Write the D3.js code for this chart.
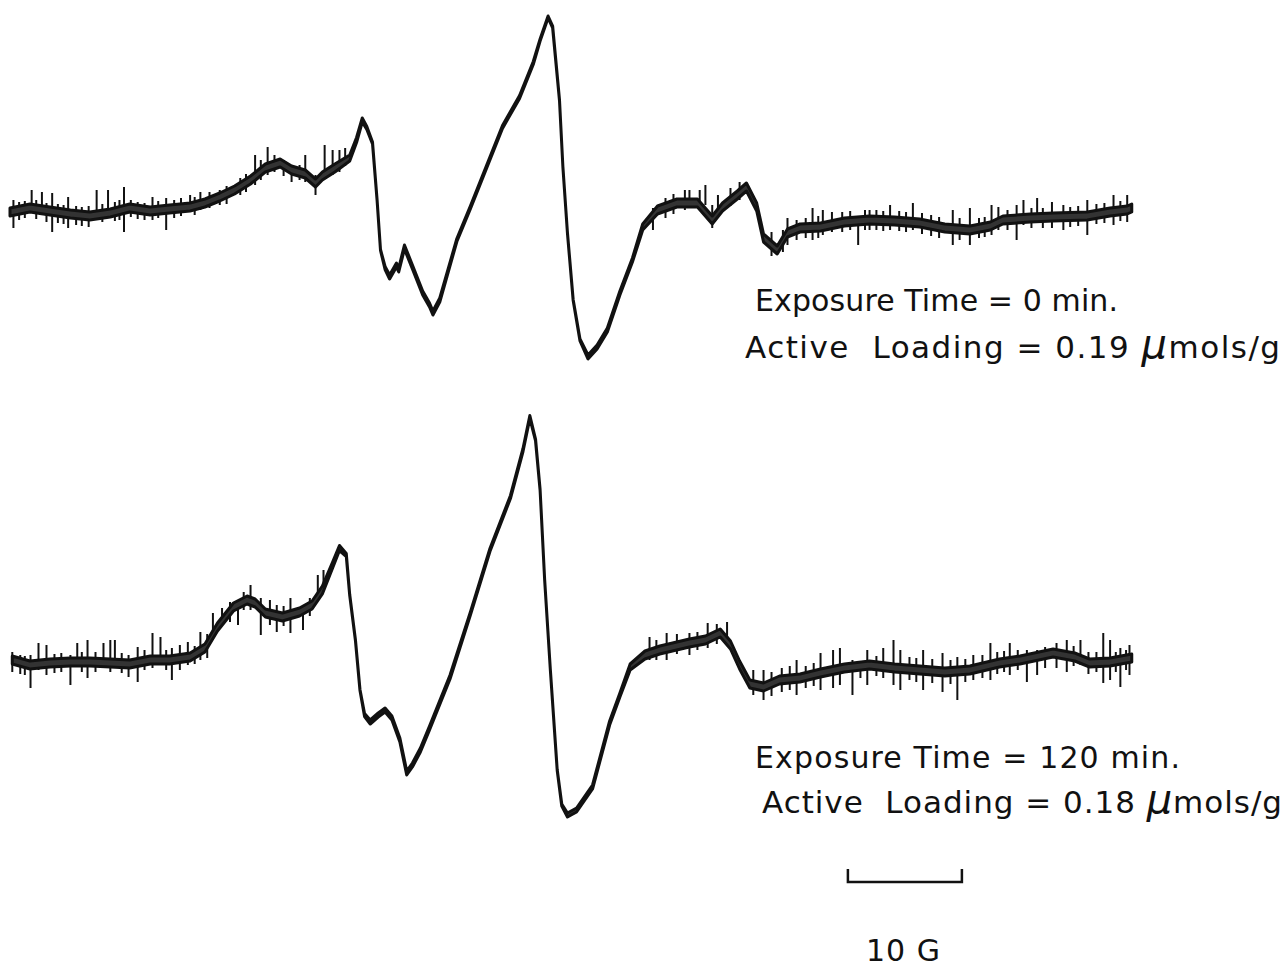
<!DOCTYPE html>
<html>
<head>
<meta charset="utf-8">
<script src="https://cdn.jsdelivr.net/npm/d3@7"></script>
<style>
  body { margin: 0; background: white; }
  text { font-family: "DejaVu Sans", sans-serif; fill: #111; white-space: pre; }
</style>
</head>
<body>
<div id="my_dataviz"></div>
<script>

var width = 1288, height = 973;

// field offset (G) and signal amplitude (arb.)
var fieldTop = [0.0,1.75,3.5,5.3,7.0,8.8,10.5,12.3,14.0,15.8,17.1,18.4,19.7,21.1,22.4,23.7,24.7,25.9,26.8,27.4,28.5,29.8,30.4,30.9,31.3,31.8,32.2,32.5,32.9,33.3,33.9,34.1,34.6,35.3,36.2,36.8,37.1,37.7,39.2,40.4,41.8,43.2,44.7,45.9,46.5,47.2,47.6,48.2,48.5,48.9,49.4,50.0,50.7,51.5,52.4,53.5,54.6,55.5,56.8,58.5,60.3,61.6,62.5,63.8,64.6,65.5,66.1,67.3,68.2,69.3,71.1,73.2,75.4,77.6,79.8,82.0,84.2,86.0,87.1,89.5,91.5,94.5,96.5,98.0,98.4]
var signalTop = [-2,2,-1,-4,-6,-3,2,-1,1,3,7,13,20,30,42,47,40,36,27,34,42,52,70,90,82,67,10,-40,-58,-67,-55,-60,-37,-57,-83,-95,-103,-90,-30,3,43,83,113,147,170,193,183,110,43,-23,-90,-130,-147,-137,-120,-83,-50,-17,0,7,7,-10,3,15,23,3,-28,-40,-23,-18,-17,-12,-10,-11,-13,-18,-20,-16,-10,-8,-7,-6,-2,0,2]
// half width of the noise band around each point
var noiseTop = [4,4,4,4,4,4,4,4,4,4,4,4,4,4,4,4,4,4,4,4,4,3,2.5,2,1.5,1,0.5,0.5,1.5,2,2,2,2,2,2,2,2,2,1.5,1.5,1.5,1.5,1.5,1.5,1,1,1,0.5,0.5,0.5,0.5,1,2,2,2,2,2,3,4,4,4,4,4,4,4,4,4,4,4,4,4,4,4,4,4,4,4,4,4,4,4,4,4,4,4]

var fieldBottom = [0.2,1.75,3.5,5.3,7.0,8.8,10.5,12.3,14.0,15.8,17.1,18.2,19.6,20.8,21.5,22.4,23.9,25.4,26.5,27.4,28.3,28.9,29.5,29.8,30.3,30.7,31.1,31.6,32.3,32.9,33.5,34.2,34.8,35.3,36.0,36.8,38.6,40.4,42.1,43.9,45.0,45.6,46.1,46.5,46.9,47.4,48.0,48.4,48.9,49.7,51.1,52.6,53.5,54.4,55.7,57.0,59.6,61.0,62.3,63.2,64.0,64.9,66.1,67.5,69.3,71.1,73.2,75.4,77.6,79.8,82.0,84.2,86.8,88.6,91.5,93.4,94.7,96.5,98.4]
var signalBottom = [0,-5,-3,-2,-2,-3,-4,0,0,3,12,33,53,60,57,47,43,48,55,70,95,112,105,65,20,-30,-55,-62,-55,-50,-58,-80,-113,-105,-90,-68,-17,47,110,163,210,243,220,170,80,-10,-110,-145,-155,-150,-127,-63,-35,-7,5,10,17,20,27,15,-5,-24,-27,-20,-18,-13,-8,-5,-8,-10,-12,-10,-3,0,7,3,-3,-2,2]
var noiseBottom = [4,4,4,4,4,4,4,4,4,4,4,4,4,4,4,4,4,4,4,4,3,2.5,1.5,0.5,0.5,0.5,1.5,2,2,2,2,2,2,2,2,2,2,1.5,1.5,1.5,1.5,1.5,1,0.5,0.5,0.5,0.5,1,2,2,2,2,2,3,4,4,4,4,4,4,4,4,4,4,4,4,4,4,4,4,4,4,4,4,4,4,4,4,4]

// noise spikes: [field, high, low]
var spikesTop = [[0.3,10,-18],[0.8,8,-10],[1.3,9,-8],[1.9,20,5],[2.3,10,-9],[2.8,18,-5],[3.2,7,-12],[3.7,17,-22],[4.2,6,-13],[4.7,5,-14],[5.1,13,-18],[5.8,4,-15],[6.3,3,-16],[6.9,4,-17],[7.6,20,-10],[8.1,6,-12],[8.6,20,-5],[9.2,8,-11],[9.6,10,-10],[10.0,23,-22],[10.6,10,-7],[11.2,8,-9],[11.8,7,-10],[12.5,13,-10],[13.0,9,-8],[13.7,12,-20],[14.4,10,-8],[15.0,12,-6],[15.8,15,-2],[16.2,13,-5],[16.7,18,0],[17.5,18,2],[18.4,20,5],[19.0,24,6],[20.2,32,15],[20.7,36,18],[21.5,55,25],[22.0,50,30],[22.6,63,35],[23.2,55,38],[24.0,50,34],[24.7,42,28],[25.4,45,30],[25.9,55,28],[26.8,35,15],[27.6,65,40],[28.3,60,35],[28.9,60,38],[29.4,62,44],[56.4,2,-20],[57.5,12,-8],[58.2,16,-4],[59.2,20,0],[59.6,20,5],[60.5,20,0],[61.0,25,5],[61.6,5,-18],[62.1,15,-5],[63.2,22,4],[64.0,28,10],[66.8,-22,-46],[67.8,-20,-42],[68.2,-8,-35],[69.0,-10,-30],[69.8,-8,-28],[70.4,2,-30],[70.9,-6,-28],[71.3,0,-25],[72.1,-2,-22],[73.0,-2,-22],[73.7,-1,-20],[74.4,-8,-35],[75.0,0,-20],[75.4,0,-20],[76.0,0,-20],[76.6,-1,-21],[77.2,5,-20],[78.0,-1,-21],[78.6,-2,-22],[79.2,7,-20],[80.0,-3,-24],[80.8,-5,-26],[81.5,-7,-28],[82.7,0,-35],[83.3,-8,-30],[84.2,2,-35],[85.0,-8,-28],[85.5,-7,-27],[86.1,5,-25],[86.7,3,-20],[87.5,0,-20],[88.3,5,-30],[88.9,10,-15],[89.6,2,-18],[90.1,12,-12],[90.6,2,-18],[91.4,8,-18],[92.4,5,-20],[93.0,3,-17],[93.7,4,-16],[94.5,10,-25],[95.3,6,-14],[96.0,7,-13],[96.8,15,-15],[97.4,9,-11],[98.0,15,-12]]
var spikesBottom = [[0.2,8,-12],[0.9,5,-14],[1.3,4,-15],[1.8,5,-28],[2.5,17,-10],[3.2,15,-15],[3.9,6,-13],[4.5,7,-12],[5.3,5,-25],[5.9,17,-5],[6.3,8,-12],[6.8,20,-18],[7.5,8,-12],[8.2,17,-8],[8.8,20,-12],[9.2,20,-5],[9.8,7,-13],[10.4,5,-17],[11.2,13,-22],[11.8,10,-10],[12.5,27,-8],[13.2,23,-5],[13.7,10,-10],[14.2,12,-20],[14.9,15,-10],[15.6,18,-5],[16.2,14,-4],[16.7,28,0],[17.3,26,2],[17.8,47,20],[18.6,52,35],[19.3,58,38],[20.0,60,35],[20.5,68,50],[21.1,75,50],[22.0,62,25],[22.8,60,35],[23.4,55,28],[24.0,54,34],[24.6,62,27],[25.7,52,30],[26.3,62,44],[27.0,85,60],[27.5,90,70],[56.1,23,0],[56.7,20,0],[57.6,27,0],[58.5,26,6],[59.6,27,5],[60.3,28,10],[61.2,37,12],[62.0,36,16],[62.9,38,15],[65.2,-10,-35],[66.1,-10,-40],[66.8,-12,-36],[67.7,-8,-32],[68.4,-6,-30],[69.0,0,-35],[69.8,-6,-28],[70.5,-3,-26],[71.1,7,-30],[72.2,10,-28],[72.8,12,-25],[73.9,0,-35],[74.6,-2,-18],[75.2,10,-25],[76.0,4,-16],[76.6,12,-18],[77.5,20,-25],[78.1,10,-30],[78.9,3,-20],[79.5,2,-22],[80.1,10,-30],[80.9,1,-23],[81.8,7,-32],[82.5,0,-24],[83.1,3,-40],[83.8,1,-22],[84.5,5,-20],[85.3,5,-18],[86.0,17,-20],[86.6,8,-14],[87.2,9,-12],[87.7,17,-15],[88.4,10,-10],[89.2,10,-22],[90.1,10,-15],[90.8,13,-8],[91.8,17,-8],[92.7,20,-12],[93.3,14,-6],[93.9,20,-5],[94.6,8,-14],[95.3,8,-12],[95.9,27,-23],[96.5,20,-20],[97.0,8,-12],[97.4,12,-27],[97.9,10,-10],[98.2,15,-15]]

var labelsTop = ["Exposure Time = 0 min.", "Active  Loading = 0.19 "]
var labelsBottom = ["Exposure Time = 120 min.", "Active  Loading = 0.18 "]
var unitLabel = ["\u03bc", "mols/g"]
var scaleBar = [73.5, 83.5]   // 10 G
var scaleLabel = "10 G"

var svg = d3.select("#my_dataviz").append("svg")
            .attr("width", width).attr("height", height)

var x = d3.scaleLinear().domain([0, 100]).range([10, 1150])

function drawTrace(field, signal, noise, spikes, base) {
  var y = d3.scaleLinear().domain([-250, 250]).range([base + 250, base - 250])
  var pts = field.map(function(f, i) { return [f, signal[i], noise[i]] })

  var band = d3.area()
               .x(function(d) { return x(d[0]) })
               .y0(function(d) { return y(d[1] - d[2]) })
               .y1(function(d) { return y(d[1] + d[2]) })

  svg.append("g").selectAll("line")
     .data(spikes).enter()
     .append("line")
     .attr("x1", function(d) { return x(d[0]) })
     .attr("x2", function(d) { return x(d[0]) })
     .attr("y1", function(d) { return y(d[1]) })
     .attr("y2", function(d) { return y(d[2]) })
     .attr("stroke", "#111")
     .attr("stroke-width", 2)

  svg.append("path")
     .datum(pts)
     .attr("d", band)
     .attr("fill", "#333")
     .attr("stroke", "#111")
     .attr("stroke-width", 3)
     .attr("stroke-linejoin", "round")
}

drawTrace(fieldTop, signalTop, noiseTop, spikesTop, 210)
drawTrace(fieldBottom, signalBottom, noiseBottom, spikesBottom, 660)

function label(txt, x0, x1, y0, size) {
  var t = svg.append("text")
     .attr("x", x0).attr("y", y0)
     .style("font-size", size + "px")
     .text(txt)
  if (x1) t.attr("textLength", x1 - x0).attr("lengthAdjust", "spacing")
  return t
}

// second line: plain text, italic mu, units, spread to the lettering width
function loadingLabel(txt, x0, x1, y0) {
  var t = label(txt, x0, x1, y0, 31)
  t.append("tspan").style("font-style", "italic").style("font-size", "40px").text(unitLabel[0])
  t.append("tspan").text(unitLabel[1])
}

label(labelsTop[0], 755, 1118, 311, 30)
loadingLabel(labelsTop[1], 745, 1280, 358)

label(labelsBottom[0], 755, 1180, 768, 30)
loadingLabel(labelsBottom[1], 762, 1282, 813)

// 10 G scale bar
var barY = 882
svg.append("path")
   .attr("d", "M" + x(scaleBar[0]) + "," + (barY - 13) + "V" + barY + "H" + x(scaleBar[1]) + "V" + (barY - 13))
   .attr("fill", "none")
   .attr("stroke", "#111")
   .attr("stroke-width", 2.5)

label(scaleLabel, 866, 940, 961, 30)

</script>
</body>
</html>
